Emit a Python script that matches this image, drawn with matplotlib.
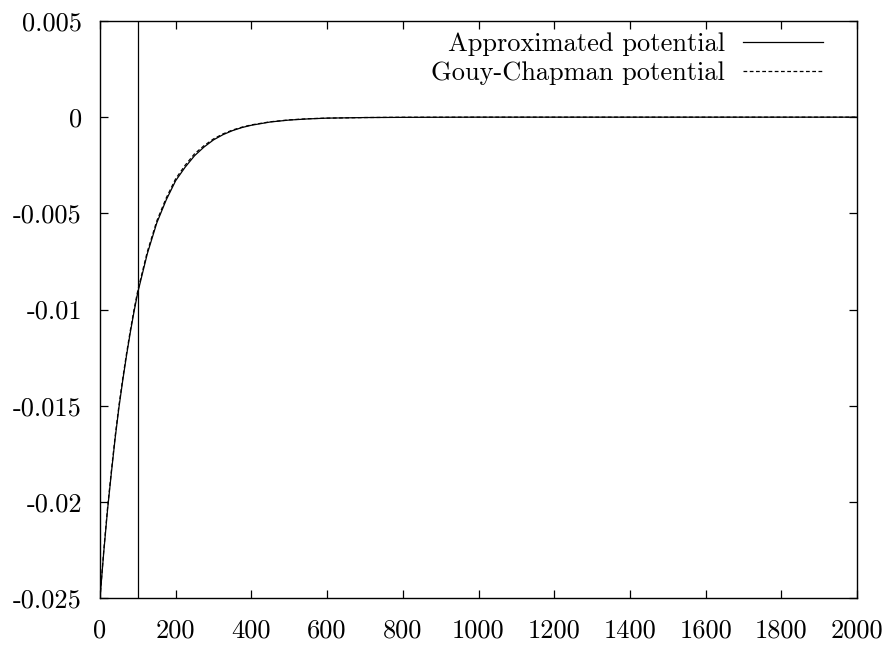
import matplotlib
matplotlib.use("Agg")
import matplotlib.pyplot as plt

plt.rcParams['font.family'] = ['cmr10', 'DejaVu Serif']
plt.rcParams['axes.unicode_minus'] = False
plt.rcParams['axes.formatter.use_mathtext'] = False

# Data
x_vals = [0, 10, 20, 30, 40, 50, 60, 70, 80, 90, 100, 125, 150, 175, 200, 225,
          250, 275, 300, 325, 350, 375, 400, 450, 500, 550, 600, 700, 800,
          1000, 1500, 2000]
approx_pot = [-0.0250, -0.0226, -0.0204, -0.0185, -0.0167, -0.0151, -0.0137,
              -0.0124, -0.0112, -0.0101, -0.0091, -0.0071, -0.0055, -0.0043,
              -0.0033, -0.0026, -0.0020, -0.00155, -0.00118, -0.00091,
              -0.00070, -0.00054, -0.00042, -0.00025, -0.00015, -0.00009,
              -0.00005, -0.00002, -0.00001, 0.0, 0.0, 0.0]
gouy_pot = [-0.0250, -0.0225, -0.0203, -0.0184, -0.0166, -0.0150, -0.0136,
            -0.0123, -0.0111, -0.0100, -0.0090, -0.0070, -0.0054, -0.0042,
            -0.0032, -0.0025, -0.0019, -0.00148, -0.00113, -0.00087,
            -0.00067, -0.00052, -0.00040, -0.00024, -0.00014, -0.00008,
            -0.00005, -0.00002, -0.000005, 0.0, 0.0, 0.0]
wall_x = 100

x_ticks = [0, 200, 400, 600, 800, 1000, 1200, 1400, 1600, 1800, 2000]
y_ticks = [-0.025, -0.02, -0.015, -0.01, -0.005, 0, 0.005]
y_tick_labels = ['-0.025', '-0.02', '-0.015', '-0.01', '-0.005', '0', '0.005']

fig = plt.figure(figsize=(8.92, 6.46), dpi=100)
ax = fig.add_axes([100/892, 1 - 598/646, (857-100)/892, (598-21)/646])

ax.plot(x_vals, approx_pot, color='black', lw=0.9, label='Approximated potential')
ax.plot(x_vals, gouy_pot, color='black', lw=0.9, linestyle=(0, (3, 2)),
        label='Gouy-Chapman potential')
ax.axvline(wall_x, color='black', lw=0.9)

ax.set_xlim(0, 2000)
ax.set_ylim(-0.025, 0.005)
ax.set_xticks(x_ticks)
ax.set_xticklabels([str(t) for t in x_ticks])
ax.set_yticks(y_ticks)
ax.set_yticklabels(y_tick_labels)
ax.tick_params(direction='in', length=6, width=0.9, top=True, right=True,
               labelsize=19)
ax.tick_params(axis='y', pad=13)
ax.tick_params(axis='x', pad=15)
for s in ax.spines.values():
    s.set_linewidth(1.0)

leg = ax.legend(loc='upper right', frameon=False, markerfirst=False,
                fontsize=19, handlelength=3.0, handletextpad=0.7,
                labelspacing=0.2, borderaxespad=0.3,
                bbox_to_anchor=(0.979, 1.012))
for t in leg.get_texts():
    t.set_ha('right')

fig.savefig('out.png', dpi=100)
